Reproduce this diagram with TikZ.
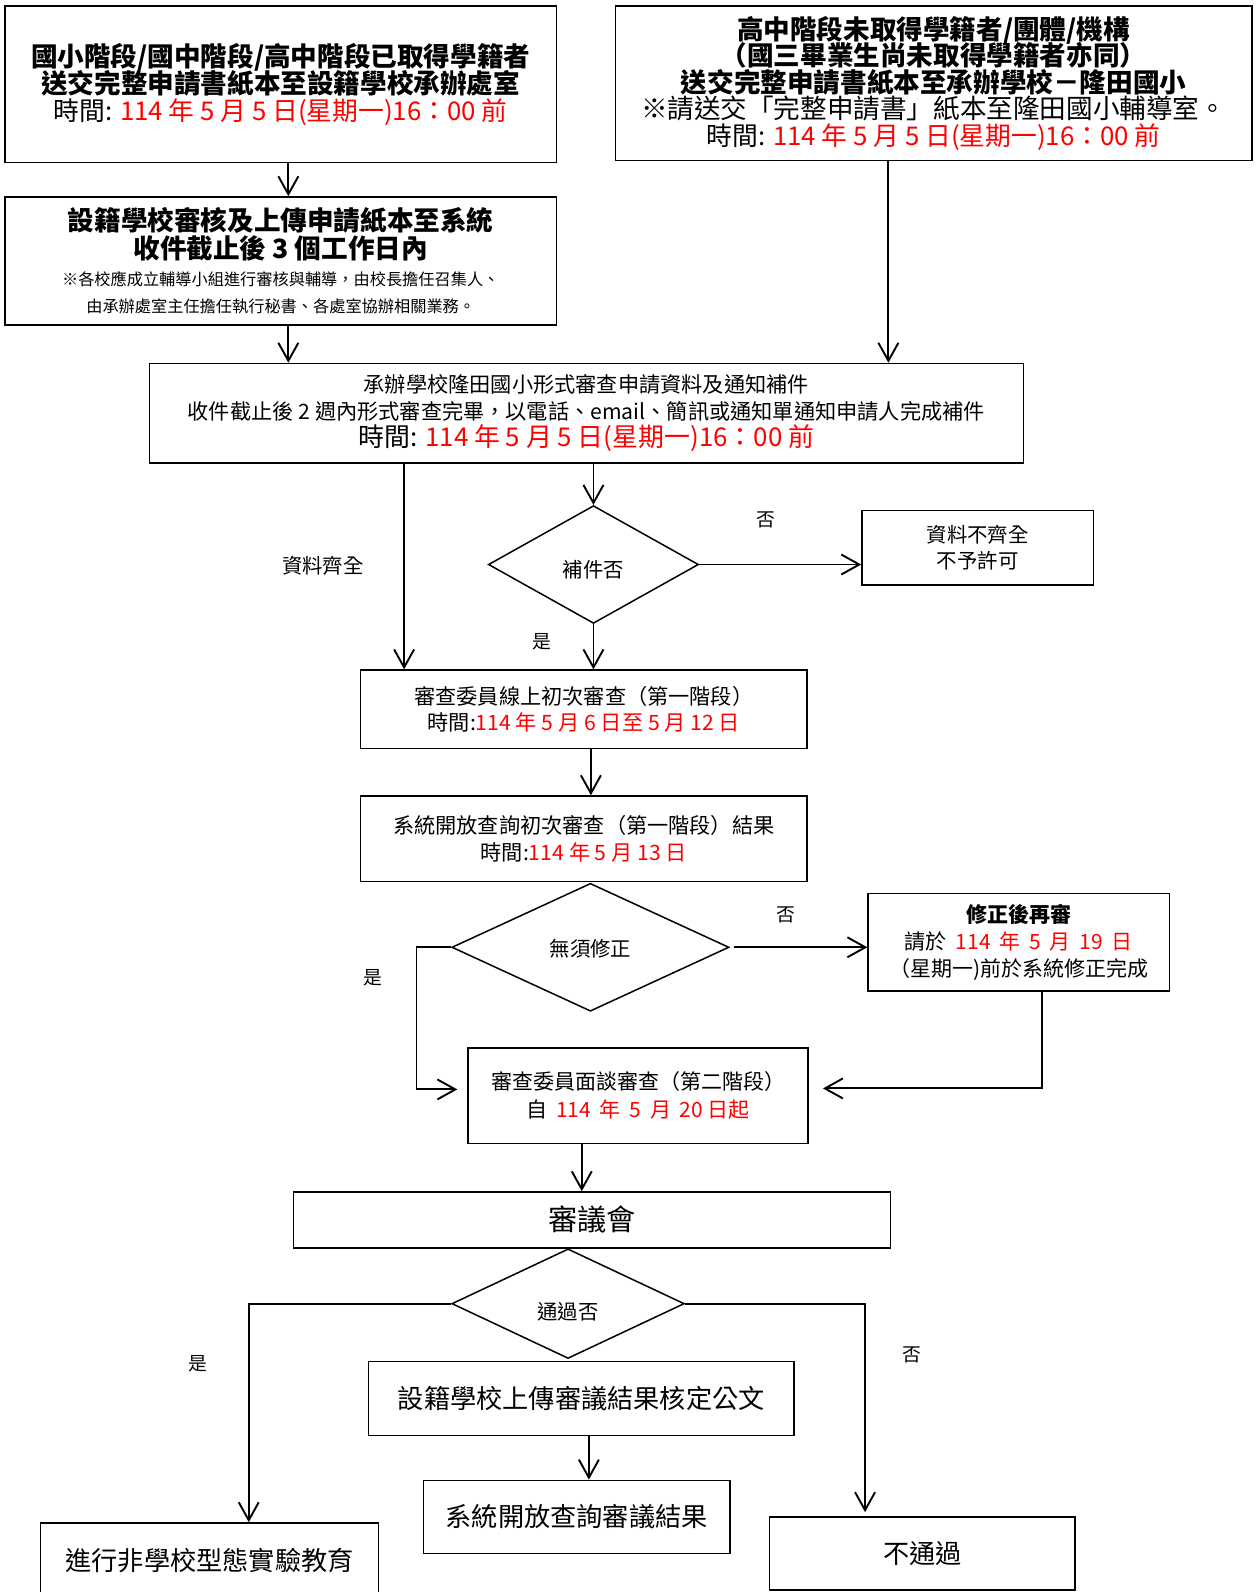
\documentclass[tikz,border=0pt]{standalone}
\usepackage{fontspec}
\setmainfont{Noto Sans CJK TC}
\usetikzlibrary{arrows.meta,calc,shapes.geometric}
\definecolor{rd}{RGB}{255,0,0}
\newcommand\R[1]{\textcolor{rd}{#1}}
\newcommand\fs[2]{\fontsize{#1}{#2}\selectfont\lineskiplimit=-100pt\relax}
\newcommand\wsp{\hspace{0.42em}}
\newcommand\mybox[7][]{\node[box,#1,minimum width={(#5-#3)*0.5077pt},minimum height={(#6-#4)*0.5077pt}] (#2) at ({(#3+#5)/2},{(#4+#6)/2}) {#7};}
\newcommand\mydia[5]{\node[dia,minimum width={#4*0.5077pt},minimum height={#5*0.5077pt}] (#1) at (#2,#3) {};}
\lineskiplimit=-100pt
\begin{document}
\begin{tikzpicture}[x=0.5077pt,y=-0.5077pt,
  box/.style={draw, line width=0.75pt, inner sep=0pt, align=center},
  dia/.style={draw, diamond, line width=0.75pt, inner sep=0pt, aspect=1.6},
  arr/.style={line width=0.95pt, -{Straight Barb[length=9pt,width=10pt]}},
  lab/.style={inner sep=0pt, font=\fs{9.4}{11}},
  dtx/.style={inner sep=0pt, font=\fs{10.2}{12}}]
\useasboundingbox (0,0) rectangle (1240,1568);
\clip (0,0) rectangle (1240,1568);

% boxes
\mybox[font=\fs{13.3}{13.6}]{A}{5}{6}{548}{160}{\bfseries 國小階段/國中階段/高中階段已取得學籍者\\
  \bfseries 送交完整申請書紙本至設籍學校承辦處室\\
  \fs{12.9}{13.6}時間: \R{114 年 5 月 5 日(星期一)16：00 前}}
\mybox[font=\fs{13.3}{13.2}]{B}{606}{6}{1233}{158}{\bfseries 高中階段未取得學籍者/團體/機構\\
  \bfseries （國三畢業生尚未取得學籍者亦同）\\
  \bfseries 送交完整申請書紙本至承辦學校－隆田國小\\
  ※請送交「完整申請書」紙本至隆田國小輔導室。\\
  \fs{12.9}{13.2}時間: \R{114 年 5 月 5 日(星期一)16：00 前}}
\mybox[font=\fs{13.3}{13.7}]{C}{5}{194}{548}{320}{\bfseries 設籍學校審核及上傳申請紙本至系統\\
  \bfseries 收件截止後 3 個工作日內\\
  \fs{8.1}{13.7}※各校應成立輔導小組進行審核與輔導，由校長擔任召集人、\\
  \fs{8.1}{13.7}由承辦處室主任擔任執行秘書、各處室協辦相關業務。}
\mybox[font=\fs{10.6}{13.7}]{D}{147}{358}{1008}{456}{承辦學校隆田國小形式審查申請資料及通知補件\\
  收件截止後 2 週內形式審查完畢，以電話、email、簡訊或通知單通知申請人完成補件\\[-0.3pt]
  \fs{12.95}{13.7}時間: \R{114 年 5 月 5 日(星期一)16：00 前}}
\mybox[font=\fs{10.2}{12.7}]{E}{849}{503}{1077}{576}{資料不齊全\\ 不予許可}
\mybox[font=\fs{10.6}{13.2}]{F}{355}{660}{795}{737}{審查委員線上初次審查（第一階段）\\
  時間:\R{114 年 5 月 6 日至 5 月 12 日}}
\mybox[font=\fs{10.6}{13.2}]{G}{355}{784}{795}{868}{系統開放查詢初次審查（第一階段）結果\\
  時間:\R{114 年 5 月 13 日}}
\mybox[font=\fs{10.5}{13.4}]{H}{855}{880}{1152}{976}{\bfseries 修正後再審\\
  請於\wsp\R{114\wsp 年\wsp 5\wsp 月\wsp 19\wsp 日}\\
  （星期一)前於系統修正完成}
\mybox[font=\fs{10.5}{13.7}]{I}{461}{1032}{796}{1126}{審查委員面談審查（第二階段）\\
  自\wsp\R{114\wsp 年\wsp 5\wsp 月\wsp 20 日起}}
\mybox[font=\fs{14.6}{16}]{J}{289}{1174}{877}{1229}{審議會}
\mybox[font=\fs{13.1}{15}]{K}{363}{1341}{782}{1414}{設籍學校上傳審議結果核定公文}
\mybox[font=\fs{13.1}{15}]{L}{417}{1458}{719}{1530}{系統開放查詢審議結果}
\mybox[font=\fs{13.1}{15}]{M}{40}{1500}{373}{1574}{進行非學校型態實驗教育}
\mybox[font=\fs{13.1}{15}]{N}{758}{1494}{1059}{1566}{不通過}

% diamonds
\mydia{d1}{584.5}{556}{207}{116}
\node[dtx] (t1) at (584.5,561) {補件否};
\mydia{d2}{581.5}{933}{273}{126}
\node[dtx] (t2) at (581.5,934) {無須修正};
\mydia{d3}{559.5}{1284}{229}{108}
\node[dtx] (t3) at (559.5,1292) {通過否};

% labels
\node[lab] (n1) at (754,512) {否};
\node[lab,font=\fs{10.2}{12}] (n2) at (318,557) {資料齊全};
\node[lab] (n3) at (534,632) {是};
\node[lab] (n4) at (774,901) {否};
\node[lab] (n5) at (367,963) {是};
\node[lab] (n6) at (195,1343) {是};
\node[lab] (n7) at (898,1334) {否};

% connectors
\coordinate (a1) at ($(A.south)+(7.5,0)$);
\draw[arr] (a1) -- (a1 |- C.north);
\coordinate (c1) at ($(C.south)+(7.5,0)$);
\draw[arr] (c1) -- (c1 |- D.north);
\coordinate (b1) at ($(B.south)+(-44.5,0)$);
\draw[arr] (b1) -- (b1 |- D.north);
\draw[arr] (D.south -| d1.north) -- (d1.north);
\draw[arr] (d1.east) -- (d1.east -| E.west);
\coordinate (dd) at ($(D.south)+(-179.5,0)$);
\draw[arr] (dd) -- (dd |- F.north);
\draw[arr] (d1.south) -- (d1.south |- F.north);
\coordinate (f1) at ($(F.south)+(7,0)$);
\draw[arr] (f1) -- (f1 |- G.north);
\draw[arr] ($(d2.east)+(4,0)$) -- (d2.east -| H.west);
\draw[arr, shorten >=5pt] (d2.west) -- ++(-34,0) |- ($(I.west)+(0,-6)$);
\coordinate (h1) at ($(H.south)+(22.5,0)$);
\draw[arr, shorten >=7pt] (h1) |- ($(I.east)+(0,-7)$);
\coordinate (i1) at ($(I.south)+(-55.5,0)$);
\draw[arr] (i1) -- (i1 |- J.north);
\draw[arr] (d3.west) -| ($(M.north)+(38.5,0)$);
\draw[arr, shorten >=2pt] (d3.east) -| ($(N.north)+(-56.5,0)$);
\coordinate (k1) at ($(K.south)+(7.5,0)$);
\draw[arr] (k1) -- (k1 |- L.north);
\end{tikzpicture}
\end{document}
